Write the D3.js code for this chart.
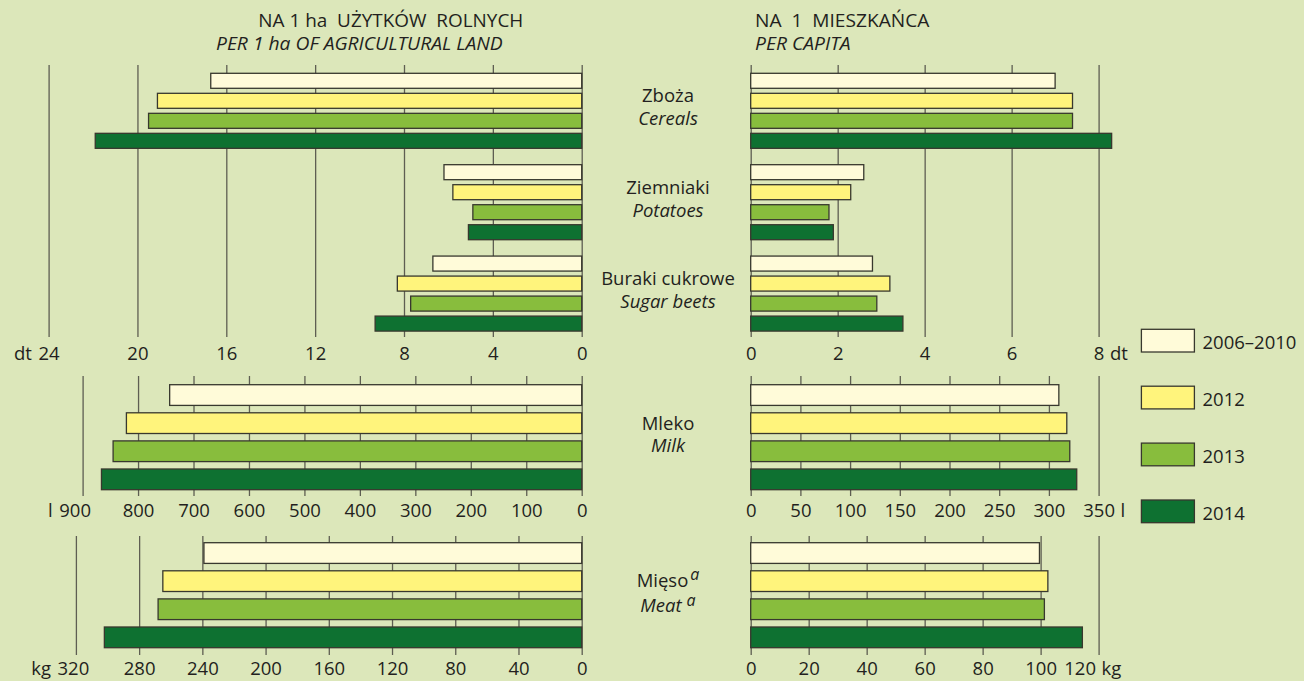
<!DOCTYPE html>
<html><head><meta charset="utf-8">
<script src="https://cdn.jsdelivr.net/npm/d3@7"></script>
<style>
html,body{margin:0;padding:0;background:#dce7ba;}
svg{display:block;font-family:"Open Sans",sans-serif;}
</style></head><body>
<svg id="chart" width="1304" height="681"></svg>
<script>
// ---------- DATA ----------
const years = ["2006–2010", "2012", "2013", "2014"];
const cropNamesPl = ["Zboża", "Ziemniaki", "Buraki cukrowe"];
const cropNamesEn = ["Cereals", "Potatoes", "Sugar beets"];
const cropsPerHa = [[16.7, 19.1, 19.5, 21.9], [6.2, 5.8, 4.9, 5.1], [6.7, 8.3, 7.7, 9.3]];
const cropsPerCapita = [[7.0, 7.4, 7.4, 8.3], [2.6, 2.3, 1.8, 1.9], [2.8, 3.2, 2.9, 3.5]];
const milkNamePl = ["Mleko"], milkNameEn = ["Milk"];
const milkPerHa = [743, 821, 845, 866];
const milkPerCapita = [310, 318, 321, 328];
const meatNamePl = ["Mięso"], meatNameEn = ["Meat"];
const meatPerHa = [239, 265, 268, 302];
const meatPerCapita = [99.6, 102.5, 101.3, 114.4];
const cropTicksHa = [0, 4, 8, 12, 16, 20, 24];
const cropTicksCapita = [0, 2, 4, 6, 8];
const milkTicksHa = [0, 100, 200, 300, 400, 500, 600, 700, 800, 900];
const milkTicksCapita = [0, 50, 100, 150, 200, 250, 300, 350];
const meatTicksHa = [0, 40, 80, 120, 160, 200, 240, 280, 320];
const meatTicksCapita = [0, 20, 40, 60, 80, 100, 120];
const unitCrops = "dt", unitMilk = "l", unitMeat = "kg";
const titleLeftPl = "NA 1 ha  UŻYTKÓW  ROLNYCH";
const titleLeftEn = "PER 1 ha OF AGRICULTURAL LAND";
const titleRightPl = "NA  1  MIESZKAŃCA";
const titleRightEn = "PER CAPITA";
const footnoteMark = "a";

// ---------- STYLE / LAYOUT ----------
const colors = ["#fffbd9", "#fff47c", "#88bd3d", "#0e7131"];
const textColor = "#231f20";
const gridColor = "#5e5e52";
const fs = 18.5;
const leftZero = 581.7, rightZero = 750.7, rightEnd = 1098.6;
const labelCx = 668;

const svg = d3.select("#chart");
svg.append("rect").attr("width", 1304).attr("height", 681).attr("fill", "#dce7ba");

function title(x, y, txt, w, italic) {
  svg.append("text").attr("x", x).attr("y", y).text(txt)
    .style("white-space", "pre").attr("font-size", fs).attr("fill", textColor)
    .attr("font-style", italic ? "italic" : "normal")
    .attr("textLength", w).attr("lengthAdjust", "spacingAndGlyphs");
}
title(258.3, 26.7, titleLeftPl, 265, false);
title(216, 50, titleLeftEn, 286.7, true);
title(755, 26.7, titleRightPl, 174.3, false);
title(755, 50, titleRightEn, 95.7, true);

const sections = [
  { cats: cropNamesPl, catsEn: cropNamesEn, ha: cropsPerHa, cap: cropsPerCapita,
    haMax: 24, haTicks: cropTicksHa, capMax: 8, capTicks: cropTicksCapita, unit: unitCrops,
    top: 65, bottom: 337, b0: 73.3, b1: 331.1, gPad: 0.179, yPad: 0.25, labelY: 360,
    haEndX: 48.6, haShift: 0, capShift: 0, mark: false, l1: -8.5, l2: 14.5 },
  { cats: milkNamePl, catsEn: milkNameEn, ha: [milkPerHa], cap: [milkPerCapita],
    haMax: 900, haTicks: milkTicksHa, capMax: 350, capTicks: milkTicksCapita, unit: unitMilk,
    top: 376, bottom: 496, b0: 384.7, b1: 489.7, gPad: 0, yPad: 0.263, labelY: 516.8,
    haEndX: 82.6, haShift: -8, capShift: 0, mark: false, l1: -7.5, l2: 15 },
  { cats: meatNamePl, catsEn: meatNameEn, ha: [meatPerHa], cap: [meatPerCapita],
    haMax: 320, haTicks: meatTicksHa, capMax: 120, capTicks: meatTicksCapita, unit: unitMeat,
    top: 536, bottom: 655, b0: 542.7, b1: 647.7, gPad: 0, yPad: 0.263, labelY: 675,
    haEndX: 75.9, haShift: -3, capShift: -19, mark: true, l1: -8.5, l2: 17 }
];

sections.forEach(s => {
  const yG = d3.scaleBand().domain(s.cats).range([s.b0, s.b1]).paddingInner(s.gPad).paddingOuter(0);
  const yY = d3.scaleBand().domain(years).range([0, yG.bandwidth()]).paddingInner(s.yPad).paddingOuter(0);
  const xL = d3.scaleLinear().domain([0, s.haMax]).range([leftZero, s.haEndX]);
  const xR = d3.scaleLinear().domain([0, s.capMax]).range([rightZero, rightEnd]);
  const h = s.bottom - s.top;
  const pad = (s.labelY - s.bottom) - 0.71 * fs;

  [[xL, s.haTicks, "left", s.haShift], [xR, s.capTicks, "right", s.capShift]].forEach(([sc, ticks, side, shift]) => {
    const ax = svg.append("g").attr("transform", `translate(0,${s.bottom})`)
      .call(d3.axisBottom(sc).tickValues(ticks).tickSize(-h).tickPadding(pad).tickFormat(d3.format("d")));
    ax.select(".domain").remove();
    ax.selectAll(".tick line").attr("stroke", gridColor).attr("stroke-width", 1.3);
    ax.selectAll(".tick text").attr("font-size", fs).attr("fill", textColor)
      .attr("font-family", '"Open Sans",sans-serif');
    const maxV = d3.max(ticks);
    const lastTick = ax.selectAll(".tick").filter(d => d === maxV);
    const lt = lastTick.select("text").attr("dx", shift);
    const bb = lt.node().getBBox();
    const cx = sc(maxV) + shift;
    const ty = s.labelY;
    if (side === "left") {
      svg.append("text").attr("x", cx - bb.width / 2 - 6).attr("y", ty).attr("text-anchor", "end")
        .attr("font-size", fs).attr("fill", textColor).text(s.unit);
    } else {
      svg.append("text").attr("x", cx + bb.width / 2 + 6).attr("y", ty).attr("text-anchor", "start")
        .attr("font-size", fs).attr("fill", textColor).text(s.unit);
    }
  });

  s.cats.forEach((c, ci) => {
    const g = svg.append("g").attr("transform", `translate(0,${yG(c)})`);
    g.selectAll("rect.l").data(s.ha[ci]).join("rect").attr("class", "l")
      .attr("x", d => xL(d)).attr("width", d => leftZero - xL(d))
      .attr("y", (d, i) => yY(years[i])).attr("height", yY.bandwidth())
      .attr("fill", (d, i) => colors[i]).attr("stroke", "#38382e").attr("stroke-width", 1.3);
    g.selectAll("rect.r").data(s.cap[ci]).join("rect").attr("class", "r")
      .attr("x", rightZero).attr("width", d => xR(d) - rightZero)
      .attr("y", (d, i) => yY(years[i])).attr("height", yY.bandwidth())
      .attr("fill", (d, i) => colors[i]).attr("stroke", "#38382e").attr("stroke-width", 1.3);
    const cy = yG(c) + yG.bandwidth() / 2;
    const t1 = svg.append("text").attr("x", labelCx).attr("y", cy + s.l1).attr("text-anchor", "middle")
      .attr("font-size", fs).attr("fill", textColor).text(c);
    const t2 = svg.append("text").attr("x", labelCx).attr("y", cy + s.l2).attr("text-anchor", "middle")
      .attr("font-size", fs).attr("font-style", "italic").attr("fill", textColor).text(s.catsEn[ci]);
    if (s.mark) {
      t1.append("tspan").attr("dy", -7).attr("dx", 2).attr("font-size", 16).attr("font-style", "italic").text(footnoteMark);
      t2.append("tspan").attr("dy", -6).attr("dx", 5).attr("font-size", 16).attr("font-style", "italic").text(footnoteMark);
    }
  });
});

// legend
const lg = svg.append("g");
years.forEach((y, i) => {
  const top = 329.3 + i * 56.9;
  lg.append("rect").attr("x", 1141.4).attr("y", top).attr("width", 53).attr("height", 22.7)
    .attr("fill", colors[i]).attr("stroke", "#38382e").attr("stroke-width", 1.3);
  lg.append("text").attr("x", 1202.5).attr("y", top + 20).attr("font-size", fs).attr("fill", textColor).text(y);
});
</script>
</body></html>
